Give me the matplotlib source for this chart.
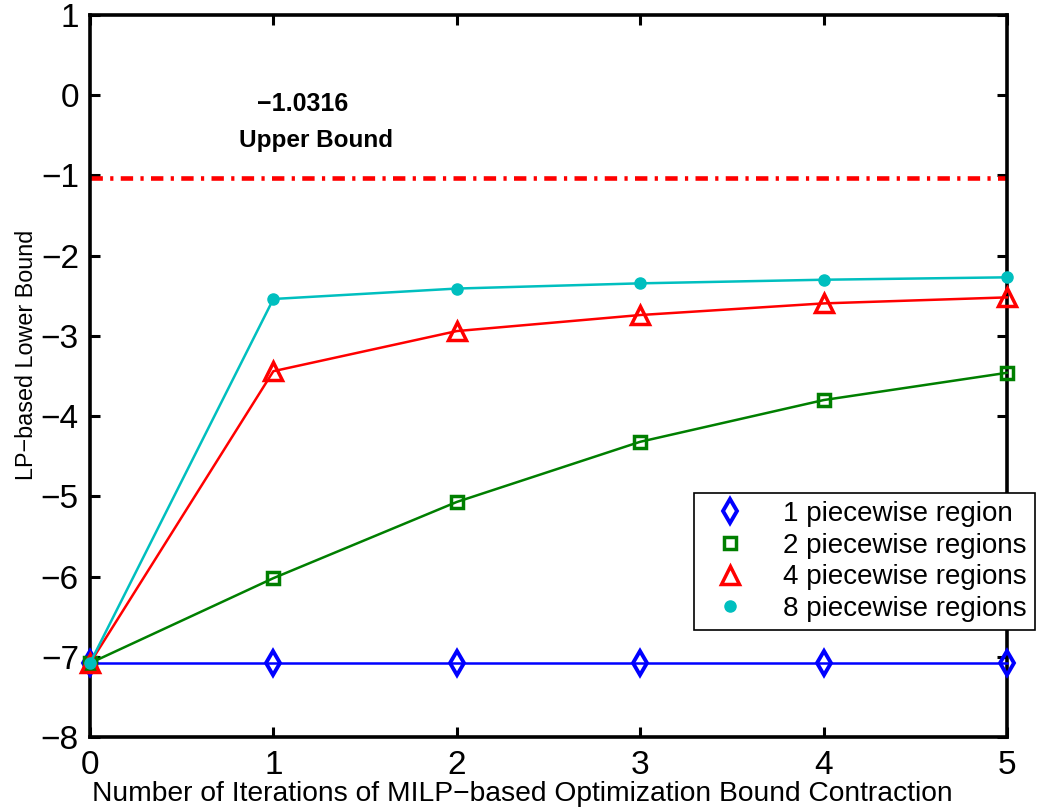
import matplotlib
matplotlib.use("Agg")
import matplotlib.pyplot as plt
from matplotlib.lines import Line2D

plt.rcParams['font.family'] = ['Liberation Sans', 'DejaVu Sans']

# Iterations of MILP-based bound contraction
iterations = [0, 1, 2, 3, 4, 5]

# LP-based lower bound for each number of piecewise regions
bound_1 = [-7.08, -7.08, -7.08, -7.08, -7.08, -7.08]
bound_2 = [-7.08, -6.02, -5.07, -4.32, -3.80, -3.46]
bound_4 = [-7.08, -3.44, -2.94, -2.74, -2.595, -2.52]
bound_8 = [-7.08, -2.54, -2.41, -2.345, -2.30, -2.27]

upper_bound = -1.0316

series_labels = ["1 piecewise region", "2 piecewise regions",
                 "4 piecewise regions", "8 piecewise regions"]
x_ticks = [0, 1, 2, 3, 4, 5]
y_ticks = [-8, -7, -6, -5, -4, -3, -2, -1, 0, 1]

fig = plt.figure(figsize=(10.45, 8.1), dpi=100)
ax = fig.add_axes([0.0861, 0.0901, 0.8775, 0.8914])

styles = [
    dict(color="#0000ff", marker="d", markersize=12, markerfacecolor="none",
         markeredgewidth=2.8),
    dict(color="#007f00", marker="s", markersize=8, markerfacecolor="none",
         markeredgewidth=2.5),
    dict(color="#ff0000", marker="^", markersize=13, markerfacecolor="none",
         markeredgewidth=2.5),
    dict(color="#00bfbf", marker="o", markersize=8, markerfacecolor="#00bfbf",
         markeredgewidth=1),
]

for values, st in zip([bound_1, bound_2, bound_4, bound_8], styles):
    ax.plot(iterations, values, linewidth=1.8, clip_on=False, zorder=3, **st)

# Known upper bound
ax.plot([iterations[0], iterations[-1]], [upper_bound, upper_bound],
        color="#ff0000", linewidth=3.3, linestyle=(0, (2.7, 1.6, 0.7, 1.6)),
        zorder=2)
ax.text(1.16, -0.11, f"\u2212{abs(upper_bound):.4f}", fontsize=18,
        fontweight="bold", ha="center", va="center")
ax.text(1.23, -0.57, "Upper Bound", fontsize=17.5, fontweight="bold",
        ha="center", va="center")

ax.set_xlim(0, 5)
ax.set_ylim(-8, 1)
ax.set_xticks(x_ticks)
ax.set_yticks(y_ticks)
ax.set_yticklabels([f"\u2212{abs(v)}" if v < 0 else str(v) for v in y_ticks])

for s in ax.spines.values():
    s.set_linewidth(2.6)
ax.tick_params(direction="in", length=7, width=2.2, labelsize=24,
               top=True, right=True, pad=8)
ax.tick_params(axis="x", pad=9)

ax.set_xlabel("Number of Iterations of MILP\u2212based Optimization Bound Contraction",
              fontsize=20.3, va="center")
ax.xaxis.set_label_coords(0.471, -0.0785)
ax.set_ylabel("LP\u2212based Lower Bound", fontsize=16.8, va="center")
ax.yaxis.set_label_coords(-0.069, 0.529)

handles = [Line2D([], [], linestyle="none", **st) for st in styles]
leg = ax.legend(handles, series_labels, loc="lower right",
                bbox_to_anchor=(1.0305, 0.148), borderaxespad=0,
                fontsize=20, frameon=True,
                fancybox=False, edgecolor="black", framealpha=1,
                handletextpad=0.9, borderpad=0.3, labelspacing=0.2,
                handlelength=2.0)
leg.get_frame().set_linewidth(1.2)
leg.set_zorder(5)

fig.savefig("out.png", dpi=100)
